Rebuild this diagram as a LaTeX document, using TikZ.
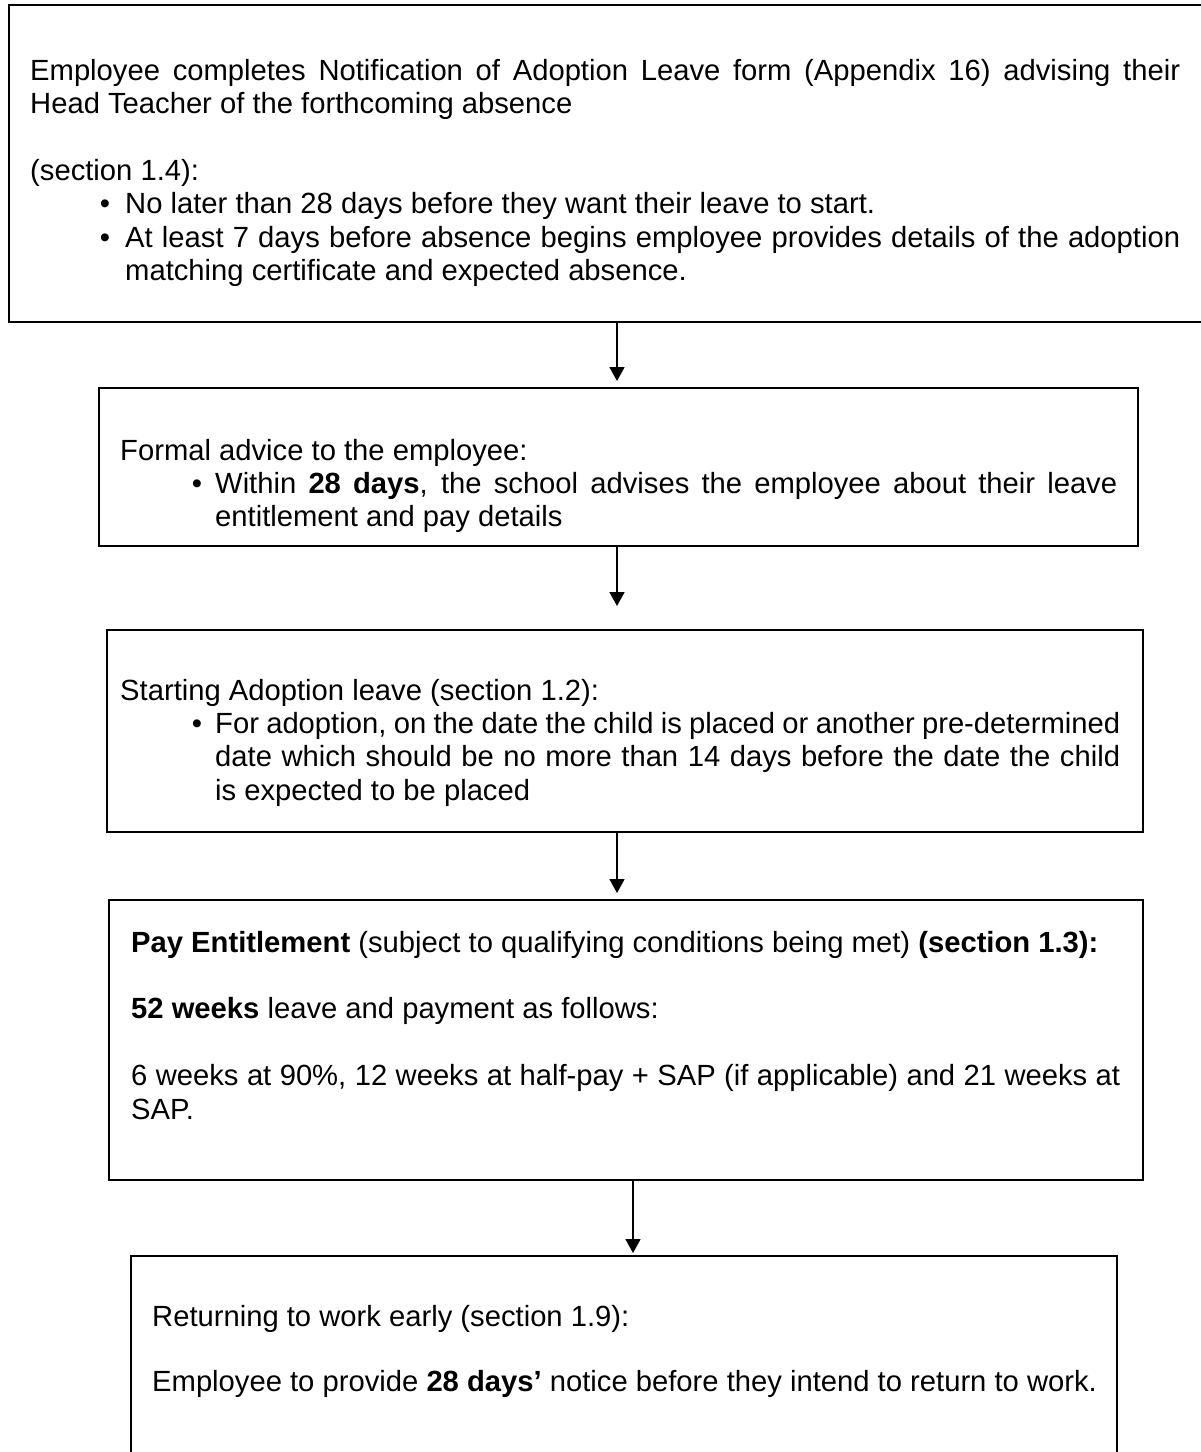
\documentclass[tikz,border=0pt]{standalone}
\usepackage{fontspec}
\setmainfont{Liberation Sans}
\usetikzlibrary{arrows.meta}
\newcommand\flowfont{\fontsize{29.2}{33.4}\selectfont\hyphenpenalty=10000\exhyphenpenalty=10000}
\begin{document}
\begin{tikzpicture}[x=1pt,y=-1pt,
  box/.style={draw=black, line width=1.8pt, inner sep=0pt, outer sep=0pt},
  txt/.style={anchor=base west, inner sep=0pt, align=justify, font=\flowfont},
  line/.style={anchor=base west, inner sep=0pt, font=\flowfont},
  dot/.style={anchor=base, inner sep=0pt, font=\flowfont},
  flow/.style={line width=1.8pt, -{Triangle[length=14pt,width=15pt]}}
]
\useasboundingbox (0,0) rectangle (1201,1452);

% boxes
\node[box, minimum width=1206pt, minimum height=317pt] (b1) at (612,163.5) {};
\node[box, minimum width=1039pt, minimum height=158pt] (b2) at (618.5,467) {};
\node[box, minimum width=1036pt, minimum height=202pt] (b3) at (625,731) {};
\node[box, minimum width=1034pt, minimum height=280pt] (b4) at (626,1040) {};
\node[box, minimum width=986pt, minimum height=224pt] (b5) at (624,1368) {};

% box 1
\node[txt, text width=1150pt] (n1a) at (30,80)
  {Employee completes Notification of Adoption Leave form (Appendix 16) advising their\linebreak Head Teacher of the forthcoming absence};
\node[line] (n1b) at (30,180.2) {(section 1.4):};
\node[dot] (d1a) at (105,213.6) {•};
\node[line] (n1c) at (125,213.6) {No later than 28 days before they want their leave to start.};
\node[dot] (d1b) at (105,247) {•};
\node[txt, text width=1055pt] (n1d) at (125,247)
  {At least 7 days before absence begins employee provides details of the adoption\linebreak matching certificate and expected absence.};

% box 2
\node[line] (n2a) at (120,460) {Formal advice to the employee:};
\node[dot] (d2a) at (197,493.4) {•};
\node[txt, text width=902pt] (n2b) at (215,493.4)
  {Within \textbf{28 days}, the school advises the employee about their leave\linebreak entitlement and pay details};

% box 3
\node[line] (n3a) at (120,700) {Starting Adoption leave (section 1.2):};
\node[dot] (d3a) at (197,733.4) {•};
\node[txt, text width=905pt] (n3b) at (215,733.4)
  {For adoption, on the date the child is placed or another pre-determined\linebreak date which should be no more than 14 days before the date the child\linebreak is expected to be placed};

% box 4
\node[line] (n4a) at (131,952) {\textbf{Pay Entitlement} (subject to qualifying conditions being met) \textbf{(section 1.3):}};
\node[line] (n4b) at (131,1018.8) {\textbf{52 weeks} leave and payment as follows:};
\node[txt, text width=989pt] (n4c) at (131,1085.6)
  {6 weeks at 90\%, 12 weeks at half-pay + SAP (if applicable) and 21 weeks at\linebreak SAP.};

% box 5
\node[line] (n5a) at (152,1326) {Returning to work early (section 1.9):};
\node[line] (n5b) at (152,1391) {Employee to provide \textbf{28 days’} notice before they intend to return to work.};

% connectors
\coordinate (e1) at (617,381);
\coordinate (e2) at (617,606);
\coordinate (e3) at (617,893);
\coordinate (e4) at (633,1253);
\draw[flow] (b1.south -| e1) -- (e1);
\draw[flow] (b2.south -| e2) -- (e2);
\draw[flow] (b3.south -| e3) -- (e3);
\draw[flow] (b4.south -| e4) -- (e4);
\end{tikzpicture}
\end{document}
